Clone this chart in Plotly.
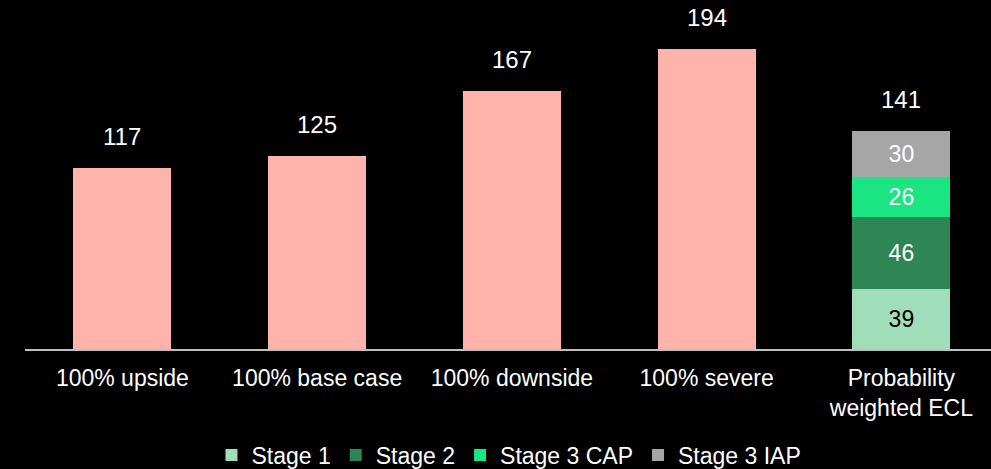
import plotly.graph_objects as go

# Expected credit loss by scenario
scenarios = ["100% upside", "100% base case", "100% downside", "100% severe"]
scenario_ecl = [117, 125, 167, 194]

weighted_label = "Probability<br>weighted ECL"
stage_names = ["Stage 1", "Stage 2", "Stage 3 CAP", "Stage 3 IAP"]
stage_values = [39, 46, 26, 30]
stage_colors = ["#A0DEB9", "#2E8654", "#1AE582", "#A6A6A6"]
stage_text_colors = ["#000000", "#FFFFFF", "#FFFFFF", "#FFFFFF"]

scenario_color = "#FFB3AB"
font_family = "Arial, Liberation Sans, sans-serif"
categories = scenarios + [weighted_label]

fig = go.Figure()

# Single-scenario bars
fig.add_trace(go.Bar(
    x=scenarios, y=scenario_ecl,
    marker=dict(color=scenario_color, line=dict(width=0)),
    width=0.503, showlegend=False, hoverinfo="x+y",
))

# Stacked probability-weighted bar, split by stage
for name, val, col, tcol in zip(stage_names, stage_values, stage_colors, stage_text_colors):
    fig.add_trace(go.Bar(
        x=[weighted_label], y=[val], name=name,
        marker=dict(color=col, line=dict(width=0)),
        width=0.503,
        text=[str(val)], textposition="inside", insidetextanchor="middle",
        textangle=0,
        textfont=dict(color=tcol, size=23, family=font_family),
    ))

# Totals above each bar
totals = scenario_ecl + [sum(stage_values)]
for cat, tot in zip(categories, totals):
    fig.add_annotation(
        x=cat, y=tot, text=str(tot), showarrow=False,
        yanchor="middle", yshift=31,
        font=dict(color="white", size=24, family=font_family),
    )

fig.update_layout(
    barmode="stack",
    width=991, height=469,
    margin=dict(l=25, r=0, t=0, b=120, autoexpand=False),
    paper_bgcolor="#000000", plot_bgcolor="#000000",
    font=dict(family=font_family, color="white"),
    uniformtext=dict(minsize=8, mode="show"),
    legend=dict(
        orientation="h", x=0.501, xanchor="center", y=-0.304, yanchor="middle",
        font=dict(size=23, color="white", family=font_family),
        bgcolor="rgba(0,0,0,0)",
        traceorder="normal",
    ),
    xaxis=dict(
        categoryorder="array", categoryarray=categories,
        range=[-0.5, 4.46],
        showline=True, linecolor="#BFBFBF", linewidth=2,
        showgrid=False, zeroline=False,
        ticks="", ticklabelstandoff=7,
        tickfont=dict(size=23, color="white", family=font_family),
    ),
    yaxis=dict(
        range=[0, 225.5], visible=False, showgrid=False, zeroline=False,
    ),
)

fig.write_html("out.html")
